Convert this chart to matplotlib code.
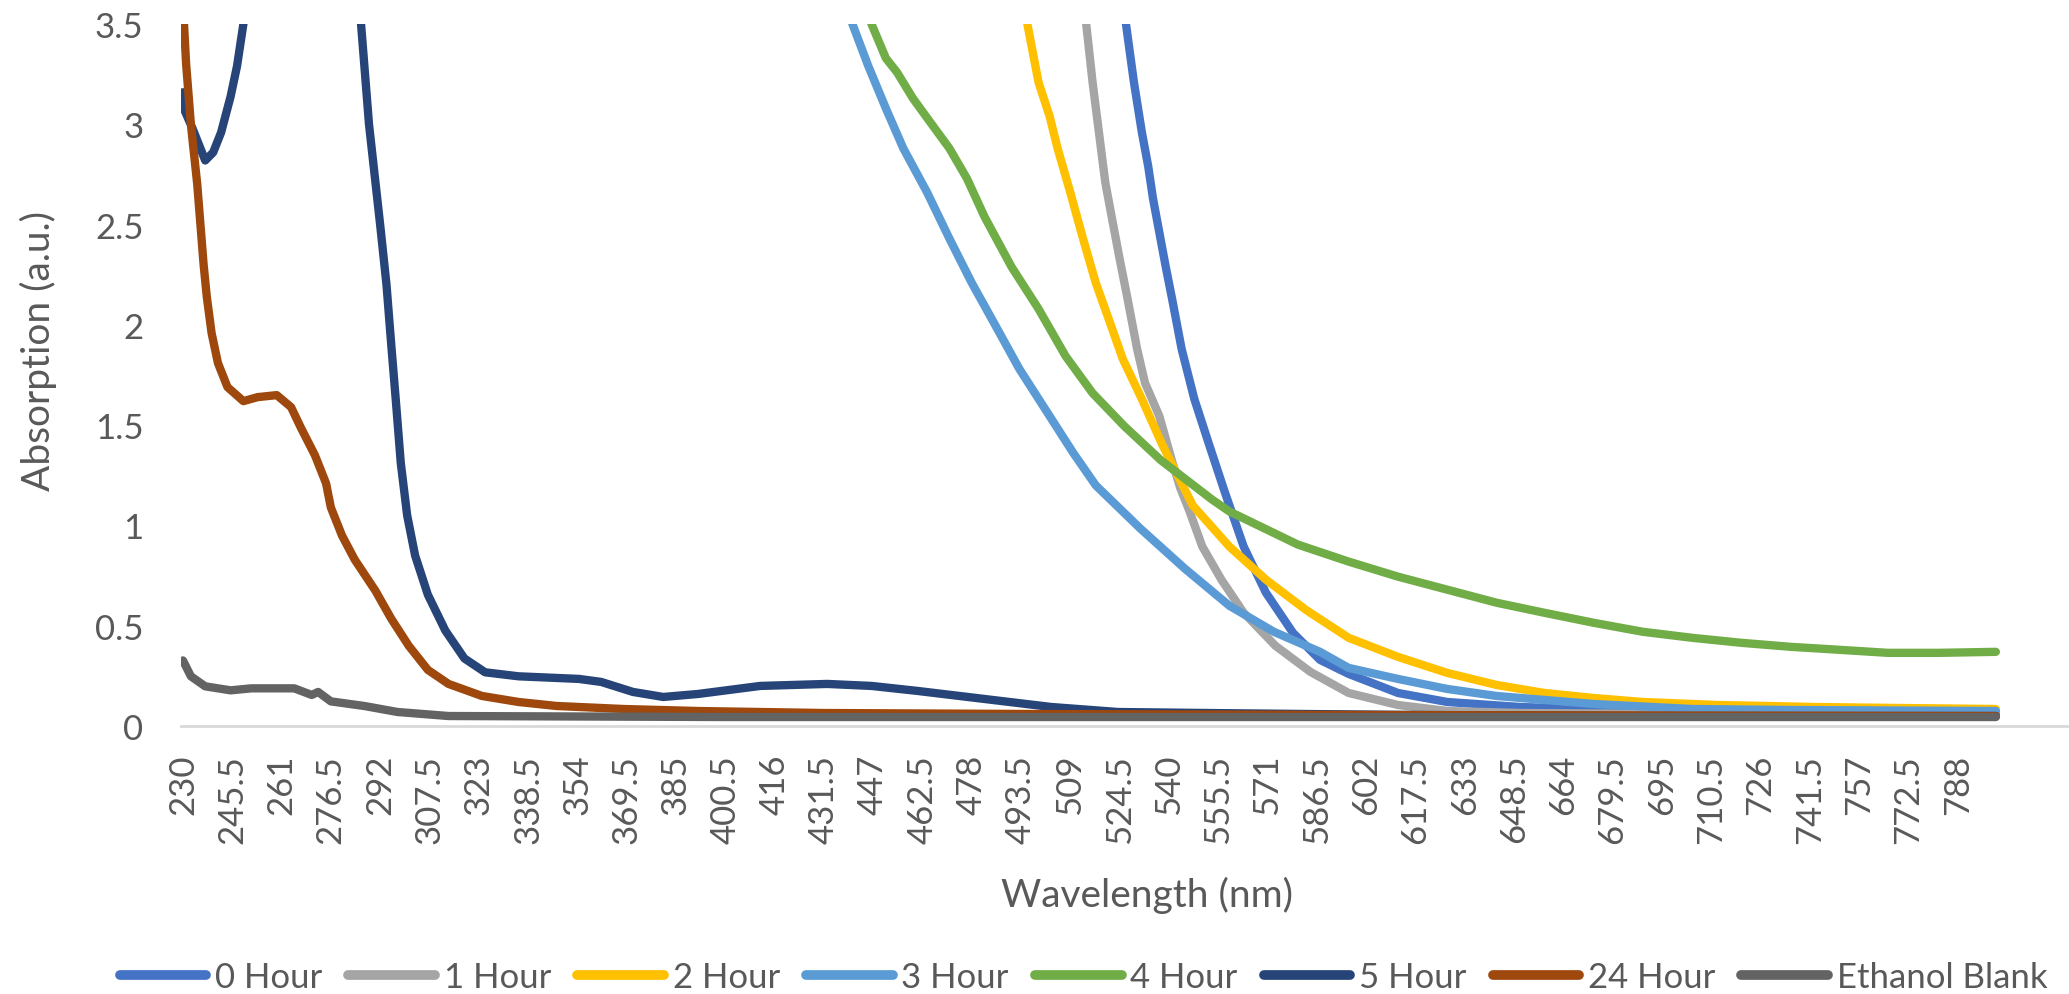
import matplotlib.pyplot as plt

plt.rcParams['font.family'] = ['Lato', 'DejaVu Sans']

# wavelength (nm) / absorption (a.u.)
wl_0h = [523, 526.5, 529, 531.5, 533.5, 535, 537, 539, 541, 544, 548, 552.5, 557.5, 563.5,
         570.5, 579, 587.5, 596.5, 612, 627.5, 650.5, 681.5, 720, 760, 800]
abs_0h = [3.85, 3.5, 3.21, 2.96, 2.79, 2.63, 2.46, 2.29, 2.13, 1.88, 1.63, 1.41, 1.17, 0.895,
          0.665, 0.465, 0.33, 0.26, 0.165, 0.12, 0.095, 0.08, 0.075, 0.07, 0.07]

wl_1h = [511, 514, 516, 518, 520, 522, 524.5, 527, 530, 532.5, 537, 541, 543.5, 546.5, 550.5,
         556.5, 563.5, 573.5, 584.5, 596.5, 612, 627.5, 650.5, 700, 800]
abs_1h = [3.85, 3.5, 3.21, 2.96, 2.71, 2.54, 2.33, 2.13, 1.88, 1.71, 1.545, 1.32, 1.19, 1.07, 0.895,
          0.73, 0.565, 0.40, 0.27, 0.165, 0.105, 0.075, 0.065, 0.06, 0.06]

wl_2h = [492, 495.5, 499, 502.5, 505, 509, 513, 517, 521.5, 525.5, 531.5, 538, 547.5, 559, 570.5,
         583, 596.5, 612, 627.5, 643, 658, 673.5, 689, 712.5, 743, 770, 800]
abs_2h = [3.85, 3.5, 3.21, 3.04, 2.88, 2.66, 2.43, 2.21, 2.01, 1.83, 1.63, 1.40, 1.10, 0.895, 0.73,
          0.58, 0.44, 0.345, 0.265, 0.205, 0.165, 0.14, 0.12, 0.105, 0.095, 0.09, 0.085]

wl_3h = [436, 440.5, 445.5, 451, 456.5, 464, 471, 478, 485, 493, 501.5, 510, 517, 531, 545, 559,
         573, 587.5, 596.5, 612, 627.5, 643, 673.5, 704.5, 735.5, 800]
abs_3h = [3.75, 3.5, 3.29, 3.08, 2.88, 2.66, 2.43, 2.21, 2.01, 1.78, 1.57, 1.36, 1.2, 0.985, 0.785,
          0.60, 0.47, 0.37, 0.29, 0.235, 0.185, 0.15, 0.11, 0.085, 0.08, 0.075]

wl_4h = [442, 446.5, 451, 454.5, 459.5, 465, 471, 476.5, 482, 490.5, 499, 507.5, 516, 526, 537.5,
         553.5, 559, 580.5, 596.5, 612, 627.5, 643, 658, 673.5, 689, 704.5, 720, 735.5, 751, 766,
         782, 800]
abs_4h = [3.75, 3.5, 3.33, 3.26, 3.13, 3.01, 2.88, 2.73, 2.54, 2.29, 2.08, 1.845, 1.66, 1.495, 1.325,
          1.13, 1.07, 0.905, 0.82, 0.745, 0.68, 0.615, 0.565, 0.515, 0.47, 0.44, 0.415, 0.395, 0.38,
          0.365, 0.365, 0.37]

wl_5h = [230, 230.5, 233, 235, 237, 239.5, 242, 245, 247, 249, 252, 284, 286, 288.5, 292, 294,
         295.5, 297, 298.5, 300.5, 303, 307, 312.5, 318.5, 325, 335.5, 354.5, 361.5, 371.5, 381,
         392, 411.5, 432.5, 446.5, 461, 482, 503, 524, 552, 583, 620, 700, 800]
abs_5h = [3.16, 3.07, 2.98, 2.9, 2.82, 2.86, 2.96, 3.14, 3.29, 3.5, 3.9, 3.9, 3.5, 3.0, 2.5, 2.2,
          1.9, 1.61, 1.31, 1.05, 0.85, 0.655, 0.476, 0.337, 0.268, 0.248, 0.235, 0.22, 0.17, 0.145,
          0.16, 0.2, 0.21, 0.2, 0.175, 0.135, 0.095, 0.07, 0.065, 0.06, 0.055, 0.05, 0.05]

wl_24h = [230, 231, 232.5, 234.5, 235.5, 236.5, 237.5, 239, 241, 244, 249, 253.5, 259.5, 264,
          267, 271.5, 275, 276.5, 280, 284, 290.5, 295.5, 301, 307, 313.5, 324, 335.5, 347.5,
          368.5, 392, 431.5, 497.5, 600, 800]
abs_24h = [3.6, 3.3, 3.0, 2.70, 2.5, 2.30, 2.14, 1.96, 1.81, 1.69, 1.62, 1.64, 1.65, 1.59,
           1.49, 1.35, 1.21, 1.09, 0.95, 0.83, 0.675, 0.535, 0.40, 0.28, 0.21, 0.15, 0.12, 0.10,
           0.085, 0.075, 0.065, 0.06, 0.055, 0.05]

wl_blank = [230, 232.5, 237, 245, 251.5, 265, 270.5, 272.5, 276.5, 287, 297.5, 313.5, 400, 800]
abs_blank = [0.327, 0.248, 0.198, 0.178, 0.188, 0.188, 0.155, 0.17, 0.123, 0.10, 0.07, 0.05,
             0.045, 0.045]

series = [
    ('0 Hour', wl_0h, abs_0h, '#4472C4'),
    ('1 Hour', wl_1h, abs_1h, '#A5A5A5'),
    ('2 Hour', wl_2h, abs_2h, '#FFC000'),
    ('3 Hour', wl_3h, abs_3h, '#5B9BD5'),
    ('4 Hour', wl_4h, abs_4h, '#70AD47'),
    ('5 Hour', wl_5h, abs_5h, '#264478'),
    ('24 Hour', wl_24h, abs_24h, '#9E480E'),
    ('Ethanol Blank', wl_blank, abs_blank, '#636363'),
]

# category labels every 31 points (0.5 nm step)
tick_wl = [230 + 15.5 * i for i in range(37)]
y_ticks = [0, 0.5, 1, 1.5, 2, 2.5, 3, 3.5]

text_color = '#595959'

fig = plt.figure(figsize=(20.69, 9.95), dpi=100)
ax = fig.add_axes([0.0875, 0.2693, 0.9125, 0.7055])

for name, wl, ab, color in series:
    ax.plot(wl, ab, color=color, lw=6, label=name,
            solid_capstyle='round', solid_joinstyle='round')

ax.set_xlim(229.4, 823)
ax.set_ylim(0, 3.5)

ax.set_xticks(tick_wl)
ax.set_xticklabels(['%g' % t for t in tick_wl], rotation=90)
ax.set_yticks(y_ticks)
ax.set_yticklabels(['%g' % t for t in y_ticks])
ax.tick_params(axis='x', length=0, pad=20, labelsize=25, labelcolor=text_color)
ax.tick_params(axis='y', length=0, pad=27, labelsize=25, labelcolor=text_color)

for side in ['top', 'right', 'left']:
    ax.spines[side].set_visible(False)
ax.spines['bottom'].set_color('#D9D9D9')
ax.spines['bottom'].set_linewidth(2)

fig.text(0.5545, 0.1, 'Wavelength (nm)', ha='center', va='center',
         fontsize=28, color=text_color)
fig.text(0.0185, 0.647, 'Absorption (a.u.)', ha='center', va='center',
         rotation=90, fontsize=28, color=text_color)

leg = ax.legend(loc='center', bbox_to_anchor=(0.5237, 0.017), bbox_transform=fig.transFigure,
                ncol=8, frameon=False, fontsize=25, handlelength=2.5, handletextpad=0.25,
                columnspacing=0.75)
for t in leg.get_texts():
    t.set_color(text_color)
for h in leg.get_lines():
    h.set_linewidth(7)

fig.savefig('out.png', dpi=100)
